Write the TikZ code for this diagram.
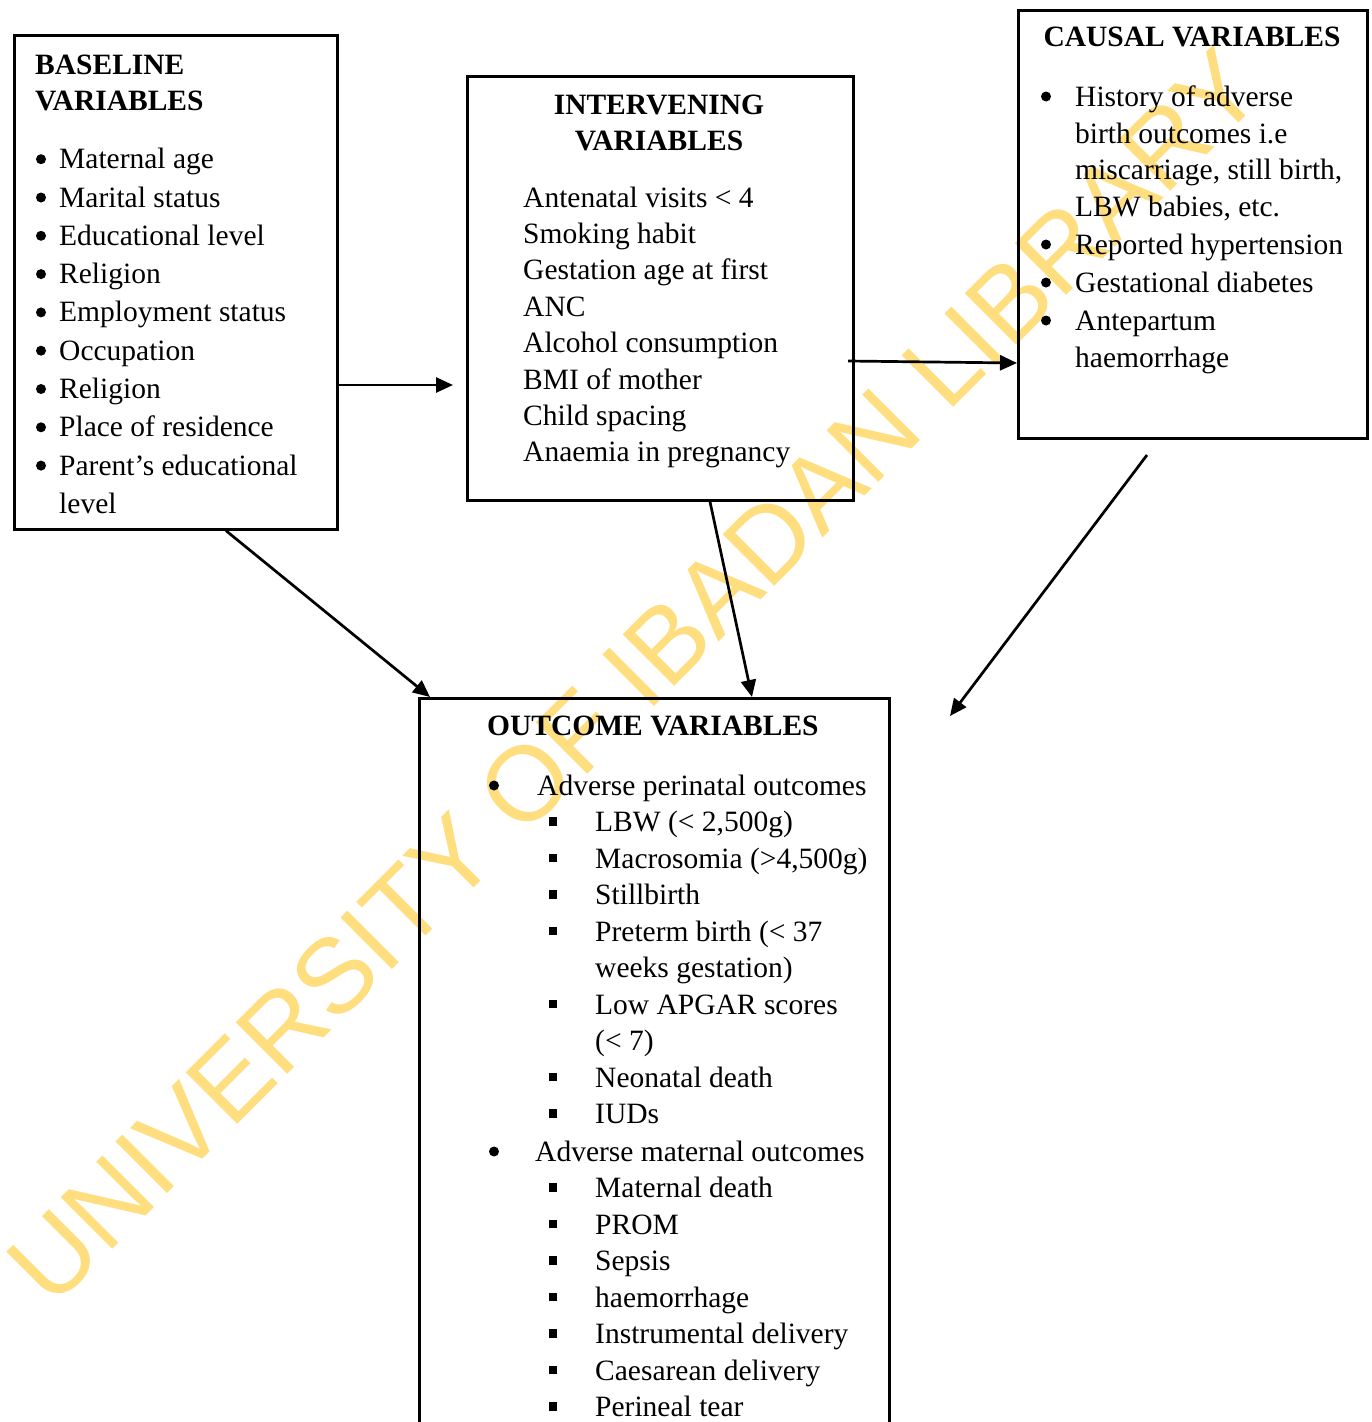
\documentclass[tikz,border=0pt]{standalone}
\usepackage{fontspec}
\setmainfont{Liberation Serif}
\newfontfamily\wmfont{Liberation Sans}
\usetikzlibrary{arrows.meta}
\definecolor{wm}{RGB}{255,222,128}
\begin{document}
\begin{tikzpicture}[x=1pt,y=-1pt,
  box/.style={draw, line width=2.7pt, inner sep=0pt, anchor=north west},
  txt/.style={anchor=base west, inner sep=0pt, font=\fontsize{29.5}{35}\selectfont},
  ttl/.style={inner sep=0pt, font=\fontsize{29.5}{35}\selectfont\bfseries},
  arr/.style={line width=2.7pt, -{Triangle[length=17pt,width=15pt]}},
  dot/.style={circle, fill, inner sep=0pt, minimum size=10pt},
  sq/.style={fill, inner sep=0pt, minimum size=8.5pt}]
\useasboundingbox (0,0) rectangle (1372,1422);
\clip (0,0) rectangle (1372,1422);
% watermark
\node[wm, rotate=45, inner sep=0pt, font=\wmfont\fontsize{106}{106}\selectfont] (wmark) at (634,676) {UNIVERSITY OF IBADAN LIBRARY};
% boxes
\node[box, minimum width=323pt, minimum height=494pt] (base) at (13,34) {};
\node[box, minimum width=386pt, minimum height=424pt] (inter) at (466,75) {};
\node[box, minimum width=349pt, minimum height=428pt] (causal) at (1017,9) {};
\node[box, minimum width=470pt, minimum height=800pt] (out) at (418,697) {};
% baseline box
\node[ttl, anchor=base west] (bt1) at (35,74) {BASELINE};
\node[ttl, anchor=base west] (bt2) at (35,110) {VARIABLES};
\foreach \t [count=\i from 0] in {Maternal age, Marital status, Educational level, Religion, Employment status, Occupation, Religion, Place of residence, Parent’s educational}{
  \node[dot] (bb\i) at (41,168.7+38.3*\i-9.5) {};
  \node[txt] (bi\i) at (59,168.7+38.3*\i) {\t};
}
\node[txt] (bi9) at (59,513.5) {level};
% intervening box
\node[ttl, anchor=base] (it1) at (659,114) {INTERVENING};
\node[ttl, anchor=base] (it2) at (659,150) {VARIABLES};
\foreach \t [count=\i from 0] in {Antenatal visits < 4, Smoking habit, Gestation age at first, ANC, Alcohol consumption, BMI of mother, Child spacing, Anaemia in pregnancy}{
  \node[txt] (ii\i) at (523,207+36.4*\i) {\t};
}
% causal box
\node[ttl, anchor=base] (ct) at (1192,46) {CAUSAL VARIABLES};
\foreach \t/\y [count=\i from 0] in {History of adverse/106, birth outcomes i.e/143, {miscarriage, still birth,}/179, {LBW babies, etc.}/216, Reported hypertension/254, Gestational diabetes/292, Antepartum/330, haemorrhage/367}{
  \node[txt] (ci\i) at (1075,\y) {\t};
}
\foreach \y [count=\i] in {106,254,292,330}{
  \node[dot] (cb\i) at (1046,\y-9.5) {};
}
% outcome box
\node[ttl, anchor=base west] (ot) at (487,735) {OUTCOME VARIABLES};
\node[dot] (ob1) at (494,795-9.5) {};
\node[txt] (ol1) at (537,795) {Adverse perinatal outcomes};
\foreach \t [count=\i from 1] in {{LBW (< 2,500g)}, {Macrosomia (>4,500g)}, Stillbirth, Preterm birth (< 37, weeks gestation), Low APGAR scores, (< 7), Neonatal death, IUDs}{
  \node[txt] (op\i) at (595,795+36.5*\i) {\t};
}
\foreach \k [count=\i] in {1,2,3,4,6,8,9}{
  \node[sq] (ps\i) at (553,795+36.5*\k-10) {};
}
\node[dot] (ob2) at (494,1161-9.5) {};
\node[txt] (ol2) at (535,1161) {Adverse maternal outcomes};
\foreach \t [count=\i from 1] in {Maternal death, PROM, Sepsis, haemorrhage, Instrumental delivery, Caesarean delivery, Perineal tear}{
  \node[txt] (om\i) at (595,1161+36.5*\i) {\t};
  \node[sq] (ms\i) at (553,1161+36.5*\i-10) {};
}
% connectors
\coordinate (a1e) at (453,385);
\coordinate (a2s) at (848,361);
\coordinate (a2e) at (1017,363);
\coordinate (a3s) at (226,528);
\coordinate (a3e) at (430,697);
\coordinate (a4s) at (710,499);
\coordinate (a4e) at (752,696);
\coordinate (a5s) at (1147,455);
\coordinate (a5e) at (950,716);
\draw[arr] (base.east |- a1e) -- (a1e);
\draw[arr] (a2s) -- (causal.west |- a2e);
\draw[arr] (base.south -| a3s) -- (a3e);
\draw[arr] (inter.south -| a4s) -- (out.north -| a4e);
\draw[arr] (a5s) -- (a5e);
\end{tikzpicture}
\end{document}
